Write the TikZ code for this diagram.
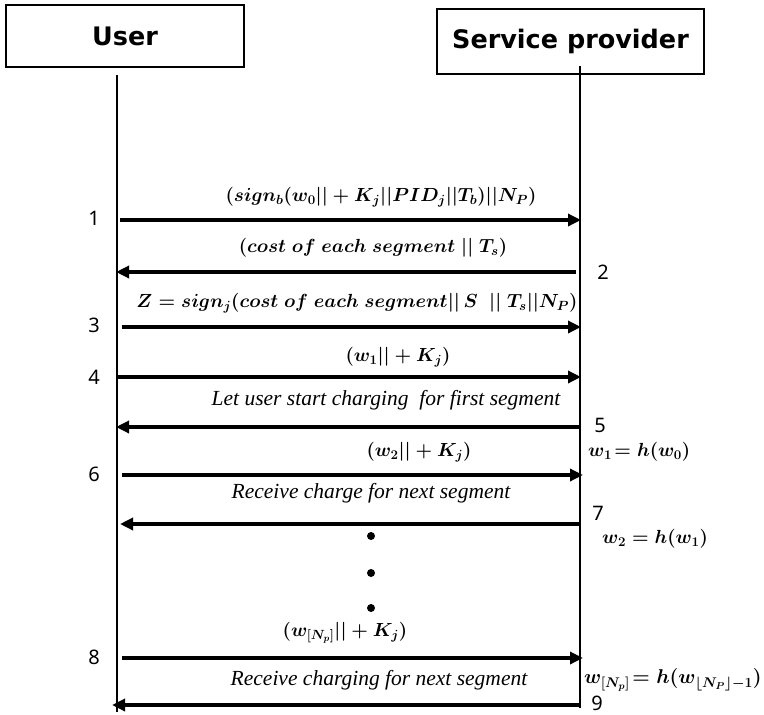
\RequirePackage{fix-cm}
\documentclass[tikz,border=0pt]{standalone}
\usepackage{amsmath}
\usepackage{fontspec}
\newfontfamily\hdfont{DejaVu Sans}
\newfontfamily\numfont{Noto Sans}
\newfontfamily\itfont{Liberation Serif}
\usetikzlibrary{arrows.meta}
\tikzset{
  actor/.style={draw, line width=2.6pt, inner sep=0pt, font=\hdfont\bfseries\fontsize{25.5}{28}\selectfont},
  life/.style={line width=2.8pt},
  msg/.style={line width=3.6pt, -{Triangle[length=13pt,width=12pt]}},
  mlab/.style={inner sep=0pt, font=\fontsize{19}{22}\selectfont\boldmath},
  tlab/.style={inner sep=0pt, font=\itfont\itshape\fontsize{21.5}{24}\selectfont},
  num/.style={inner sep=0pt, font=\numfont\fontsize{20}{22}\selectfont},
  dotnode/.style={circle, fill, inner sep=0pt, minimum size=8pt}
}
\begin{document}
\begin{tikzpicture}[x=1pt,y=-1pt]
\useasboundingbox (0,0) rectangle (764,715);
% actors
\node[actor, minimum width=238pt, minimum height=62pt] (user) at (125,36) {User};
\node[actor, minimum width=267pt, minimum height=65pt] (sp) at (570.5,41.5) {Service provider};
% lifelines
\coordinate (ut) at (117,75);
\coordinate (ub) at (117,712);
\coordinate (st) at (580,66);
\coordinate (sb) at (580,708);
\draw[life] (ut) -- (ub);
\draw[life] (st) -- (sb);
% message end points
\coordinate (a1s) at (120,220); \coordinate (a1e) at (581,220);
\coordinate (a2s) at (576,272); \coordinate (a2e) at (116,272);
\coordinate (a3s) at (122,327); \coordinate (a3e) at (581,327);
\coordinate (a4s) at (117,377); \coordinate (a4e) at (581,377);
\coordinate (a5s) at (579,427); \coordinate (a5e) at (116,427);
\coordinate (a6s) at (122,475); \coordinate (a6e) at (583,475);
\coordinate (a7s) at (579,524); \coordinate (a7e) at (120,524);
\coordinate (a8s) at (122,658); \coordinate (a8e) at (583,658);
\coordinate (a9s) at (579,705); \coordinate (a9e) at (112,705);
\foreach \i in {1,...,9}{\draw[msg] (a\i s) -- (a\i e);}
% labels over messages
\node[mlab] (l1) at (381,197) {$(sign_b(w_0||+K_j||PID_j||T_b)||N_P)$};
\node[mlab] (l2) at (373,248) {$(cost\ of\ each\ segment\ ||\ T_s)$};
\node[mlab] (l3) at (357,303) {$Z=sign_j(cost\ of\ each\ segment||\,S\ \ ||\ T_s||N_P)$};
\node[mlab] (l4) at (398,357) {$(w_1||+K_j)$};
\node[tlab] (l5) at (386,400) {Let user start charging\ \ for first segment};
\node[mlab] (l6) at (419,452) {$(w_2||+K_j)$};
\node[tlab] (l7) at (371,493) {Receive charge for next segment};
\node[mlab] (l8) at (345,633) {$(w_{[N_p]}||+K_j)$};
\node[tlab] (l9) at (379,680) {Receive charging for next segment};
% step numbers
\node[num] (n1) at (94,218) {1};
\node[num] (n2) at (603,272) {2};
\node[num] (n3) at (94,325) {3};
\node[num] (n4) at (94,377) {4};
\node[num] (n5) at (600,425) {5};
\node[num] (n6) at (94,474) {6};
\node[num] (n7) at (598,513) {7};
\node[num] (n8) at (94,657) {8};
\node[num] (n9) at (597,703) {9};
% hash equations
\node[mlab, anchor=west] (h1) at (588,452) {$w_1\!= h(w_0)$};
\node[mlab, anchor=west] (h2) at (602,539) {$w_2 = h(w_1)$};
\node[mlab, anchor=west, font=\fontsize{20}{22}\selectfont\boldmath] (h3) at (584,680) {$w_{[N_p]}\!= h(w_{\lfloor N_P\rfloor-1})$};
% ellipsis dots
\node[dotnode] (d1) at (371,536) {};
\node[dotnode] (d2) at (371,573) {};
\node[dotnode] (d3) at (371,608) {};
\end{tikzpicture}
\end{document}
